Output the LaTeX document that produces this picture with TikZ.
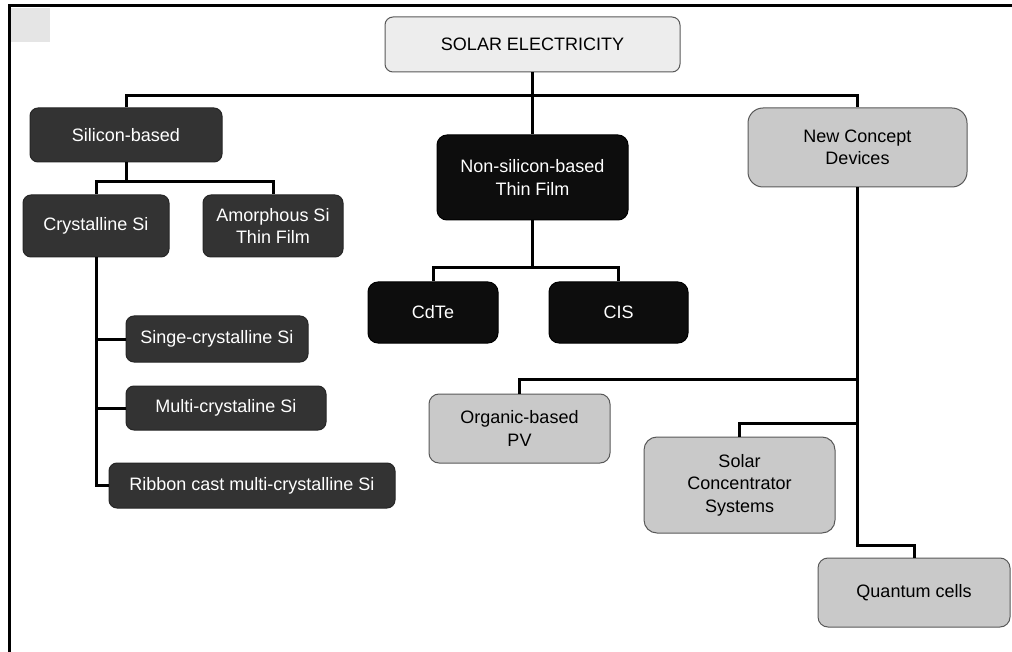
\documentclass[tikz,border=0pt]{standalone}
\usepackage{fontspec}
\setmainfont{Liberation Sans}
\begin{document}
\begin{tikzpicture}[x=1pt,y=-1pt,
  box/.style={rectangle, rounded corners=8pt, line width=1pt, align=center, inner sep=0pt,
    font=\fontsize{18}{22.5}\selectfont},
  darkbox/.style={box, fill=black!80, draw=black!85, text=white},
  blackbox/.style={box, fill=black!95, draw=black, text=white, rounded corners=10pt},
  graybox/.style={box, fill=black!21, draw=black!65, text=black},
  topbox/.style={box, fill=black!7, draw=black!65, text=black},
  conn/.style={line width=3pt, black}]
\useasboundingbox (0,0) rectangle (1012,652);
% frame
\fill[black!10] (11,8) rectangle (50,42);
\draw[line width=3pt] (9,652) -- (9,6) -- (1012,6);
% nodes
\node[topbox, minimum width=295pt, minimum height=55pt] (sol) at (532.5,44.5) {SOLAR ELECTRICITY};
\node[darkbox, minimum width=192pt, minimum height=54pt] (sil) at (126,135) {Silicon-based};
\node[blackbox, minimum width=191pt, minimum height=85pt] (nsi) at (532.5,177.5) {Non-silicon-based\\Thin Film};
\node[graybox, rounded corners=15pt, minimum width=219pt, minimum height=79pt] (ncd) at (857.5,147.5) {New Concept\\Devices};
\node[darkbox, minimum width=146pt, minimum height=62pt] (cry) at (96,226) {Crystalline Si};
\node[darkbox, minimum width=140pt, minimum height=62pt] (amo) at (273,226) {Amorphous Si\\Thin Film};
\node[blackbox, minimum width=130pt, minimum height=61pt] (cdte) at (433,312.5) {CdTe};
\node[blackbox, minimum width=139pt, minimum height=61pt] (cis) at (618.5,312.5) {CIS};
\node[darkbox, minimum width=182pt, minimum height=46pt] (sin) at (217,339) {Singe-crystalline Si};
\node[darkbox, minimum width=200pt, minimum height=44pt] (mul) at (226,408) {Multi-crystaline Si};
\node[darkbox, minimum width=286pt, minimum height=45pt] (rib) at (252,485.5) {Ribbon cast multi-crystalline Si};
\node[graybox, rounded corners=10pt, minimum width=181pt, minimum height=69pt] (org) at (519.5,428.5) {Organic-based\\PV};
\node[graybox, rounded corners=13pt, minimum width=191pt, minimum height=96pt] (sc) at (739.5,485) {Solar\\Concentrator\\Systems};
\node[graybox, rounded corners=10pt, minimum width=192pt, minimum height=69pt] (qc) at (914,592.5) {Quantum cells};
% connectors
\draw[conn] (sil.north) -- ++(0,-12) -| (ncd.north);
\draw[conn] (sol.south) -- (nsi.north);
\draw[conn] (sil.south) -- ++(0,20);
\draw[conn] (cry.north) -- ++(0,-13) -| (amo.north);
\draw[conn] (cry.south) |- (rib.west);
\draw[conn] (cry.south |- sin.west) -- (sin.west);
\draw[conn] (cry.south |- mul.west) -- (mul.west);
\draw[conn] (nsi.south) -- ++(0,48);
\draw[conn] (cdte.north) -- ++(0,-14) -| (cis.north);
\coordinate (qk) at (857.5,545);
\draw[conn] (ncd.south) -- (qk) -| (qc.north);
\draw[conn] (ncd.south |- 0,379) -| (org.north);
\draw[conn] (ncd.south |- 0,423) -| (sc.north);
\end{tikzpicture}
\end{document}
